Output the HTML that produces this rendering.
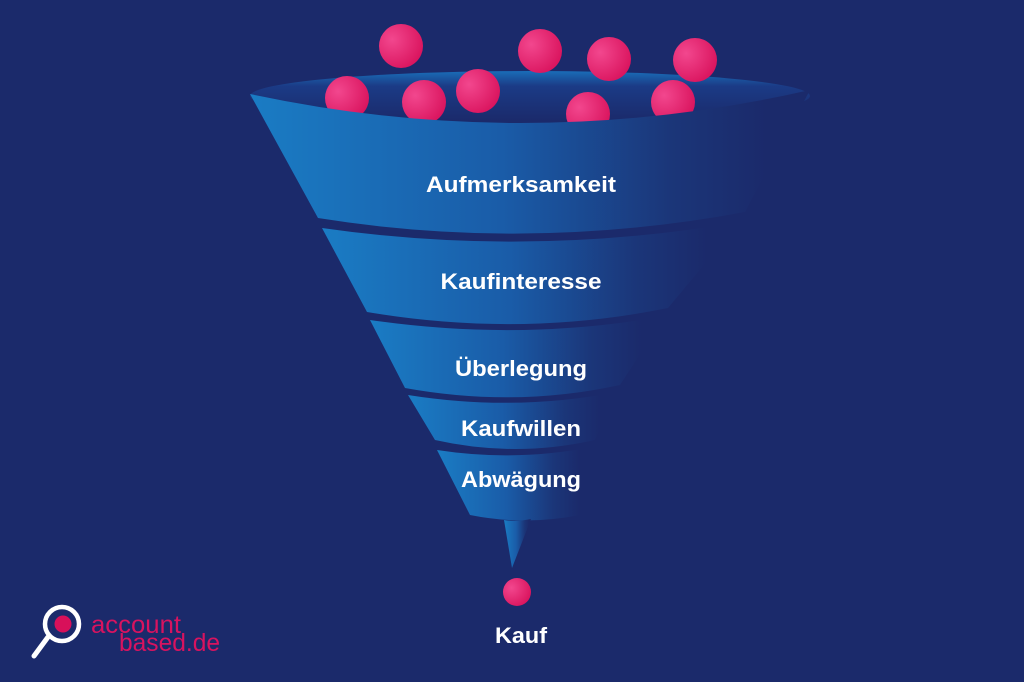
<!DOCTYPE html>
<html><head><meta charset="utf-8"><style>
html,body{margin:0;padding:0;background:#1b2a6b;}
svg{display:block}
text{font-family:"Liberation Sans",sans-serif;}
</style></head><body>
<svg width="1024" height="682" viewBox="0 0 1024 682" xmlns="http://www.w3.org/2000/svg">
<defs>
<linearGradient id="band" x1="0" y1="0" x2="1" y2="0">
<stop offset="0" stop-color="#1a7cc4"/>
<stop offset="0.45" stop-color="#1a5ca8"/>
<stop offset="0.75" stop-color="#1b3679"/>
<stop offset="0.92" stop-color="#1b2a6b"/>
</linearGradient>
<linearGradient id="rim" x1="0" y1="0" x2="0" y2="1">
<stop offset="0" stop-color="#1a6db8"/>
<stop offset="0.3" stop-color="#1b3b86"/>
<stop offset="1" stop-color="#1b2a6b"/>
</linearGradient>
<radialGradient id="ball" cx="0.3" cy="0.35" r="0.8">
<stop offset="0" stop-color="#f2478e"/>
<stop offset="1" stop-color="#d8105a"/>
</radialGradient>
</defs>
<rect width="1024" height="682" fill="#1b2a6b"/>
<ellipse cx="530" cy="96" rx="280" ry="25" fill="url(#rim)"/>
<g fill="url(#ball)">
<circle cx="401" cy="46" r="22"/>
<circle cx="540" cy="51" r="22"/>
<circle cx="609" cy="59" r="22"/>
<circle cx="695" cy="60" r="22"/>
<circle cx="347" cy="98" r="22"/>
<circle cx="424" cy="102" r="22"/>
<circle cx="478" cy="91" r="22"/>
<circle cx="588" cy="114" r="22"/>
<circle cx="673" cy="102" r="22"/>
<circle cx="512" cy="135" r="12"/>
</g>
<g fill="url(#band)">
<path d="M250,94 Q530,154 810,90 L745,212 Q530,252 318,218 Z"/>
<path d="M322,228 Q530,258 740,222 L668,308 Q520,338 367,312 Z"/>
<path d="M370,320 Q520,342 665,316 L620,385 Q515,408 405,388 Z"/>
<path d="M408,395 Q515,412 617,392 L595,440 Q515,458 435,440 Z"/>
<path d="M437,450 Q515,462 592,447 L580,515 Q525,526 470,515 Z"/>
<path d="M504,520 Q517,522 531,519 L512,568 Z"/>
</g>
<circle cx="517" cy="592" r="14" fill="url(#ball)"/>
<g fill="#ffffff" font-size="22" font-weight="bold" text-anchor="middle">
<text x="521" y="192" textLength="190" lengthAdjust="spacingAndGlyphs">Aufmerksamkeit</text>
<text x="521" y="289" textLength="161" lengthAdjust="spacingAndGlyphs">Kaufinteresse</text>
<text x="521" y="376" textLength="132" lengthAdjust="spacingAndGlyphs">Überlegung</text>
<text x="521" y="436" textLength="120" lengthAdjust="spacingAndGlyphs">Kaufwillen</text>
<text x="521" y="487" textLength="120" lengthAdjust="spacingAndGlyphs">Abwägung</text>
<text x="521" y="643" textLength="52" lengthAdjust="spacingAndGlyphs">Kauf</text>
</g>
<line x1="48" y1="637" x2="34" y2="656" stroke="#ffffff" stroke-width="5" stroke-linecap="round"/>
<circle cx="62" cy="624" r="17" fill="none" stroke="#ffffff" stroke-width="4.5"/>
<circle cx="63" cy="624" r="8.5" fill="#d8105a"/>
<g fill="#d8135f" font-size="25">
<text x="91" y="633" textLength="90" lengthAdjust="spacingAndGlyphs">account</text>
<text x="119" y="651" textLength="101" lengthAdjust="spacingAndGlyphs">based.de</text>
</g>
</svg>
</body></html>
